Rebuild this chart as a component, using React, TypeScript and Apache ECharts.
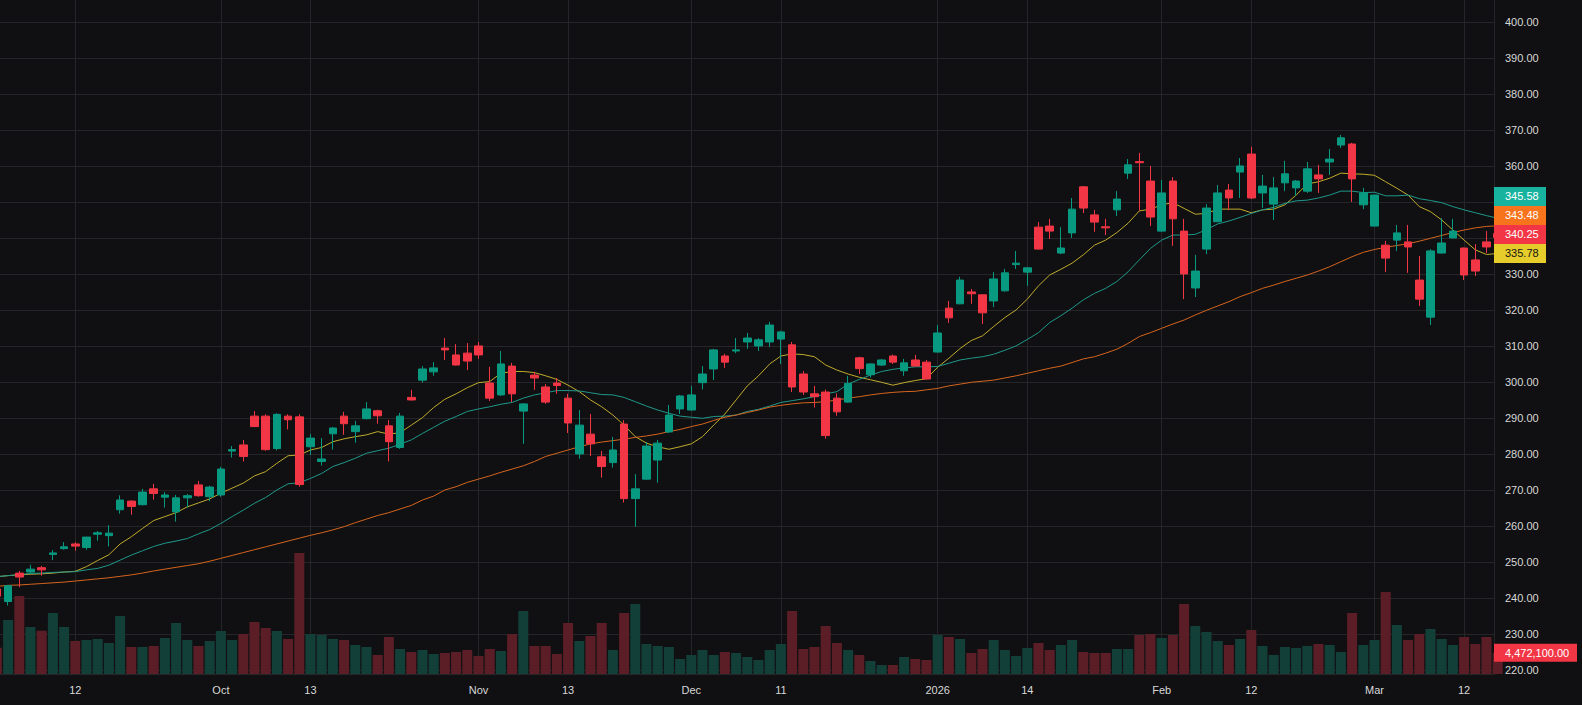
import React, { useEffect, useRef } from "react";
import * as echarts from "echarts";

// ---------- data (trading days, 2025-09-03 .. 2026-03-17) ----------
const dates = [
  "2025-09-03","2025-09-04","2025-09-05","2025-09-08","2025-09-09","2025-09-10","2025-09-11","2025-09-12","2025-09-15","2025-09-16",
  "2025-09-17","2025-09-18","2025-09-19","2025-09-22","2025-09-23","2025-09-24","2025-09-25","2025-09-26","2025-09-29","2025-09-30",
  "2025-10-01","2025-10-02","2025-10-03","2025-10-06","2025-10-07","2025-10-08","2025-10-09","2025-10-10","2025-10-13","2025-10-14",
  "2025-10-15","2025-10-16","2025-10-17","2025-10-20","2025-10-21","2025-10-22","2025-10-23","2025-10-24","2025-10-27","2025-10-28",
  "2025-10-29","2025-10-30","2025-10-31","2025-11-03","2025-11-04","2025-11-05","2025-11-06","2025-11-07","2025-11-10","2025-11-11",
  "2025-11-12","2025-11-13","2025-11-14","2025-11-17","2025-11-18","2025-11-19","2025-11-20","2025-11-21","2025-11-24","2025-11-25",
  "2025-11-26","2025-11-28","2025-12-01","2025-12-02","2025-12-03","2025-12-04","2025-12-05","2025-12-08","2025-12-09","2025-12-10",
  "2025-12-11","2025-12-12","2025-12-15","2025-12-16","2025-12-17","2025-12-18","2025-12-19","2025-12-22","2025-12-23","2025-12-24",
  "2025-12-26","2025-12-29","2025-12-30","2025-12-31","2026-01-02","2026-01-05","2026-01-06","2026-01-07","2026-01-08","2026-01-09",
  "2026-01-12","2026-01-13","2026-01-14","2026-01-15","2026-01-16","2026-01-20","2026-01-21","2026-01-22","2026-01-23","2026-01-26",
  "2026-01-27","2026-01-28","2026-01-29","2026-01-30","2026-02-02","2026-02-03","2026-02-04","2026-02-05","2026-02-06","2026-02-09",
  "2026-02-10","2026-02-11","2026-02-12","2026-02-13","2026-02-17","2026-02-18","2026-02-19","2026-02-20","2026-02-23","2026-02-24",
  "2026-02-25","2026-02-26","2026-02-27","2026-03-02","2026-03-03","2026-03-04","2026-03-05","2026-03-06","2026-03-09","2026-03-10",
  "2026-03-11","2026-03-12","2026-03-13","2026-03-16","2026-03-17"
];

const open = [
  242.6,239.1,247.0,247.3,248.5,252.2,253.8,255.1,254.1,257.8,
  257.4,264.6,267.0,266.0,270.4,268.1,264.0,267.9,271.5,268.2,
  268.7,280.9,282.6,290.6,290.6,281.6,290.6,290.4,282.1,278.0,
  285.7,290.6,286.3,289.9,292.1,287.9,281.9,295.8,300.6,302.9,
  309.5,307.6,308.1,310.1,299.8,296.5,304.5,292.0,302.0,298.7,
  299.8,295.6,280.1,285.6,279.3,277.7,288.4,267.7,273.1,278.4,
  286.2,292.6,292.3,299.9,303.7,307.3,308.7,311.2,310.1,311.2,
  312.0,310.4,302.3,296.8,297.3,295.6,294.5,306.8,302.1,304.8,
  307.3,303.2,306.2,305.6,308.4,320.6,321.8,325.1,324.3,322.6,
  325.4,332.7,330.6,343.1,343.4,335.9,341.5,354.3,346.5,343.2,
  347.9,358.1,361.3,355.9,342.0,355.9,342.0,326.2,337.0,344.6,
  353.4,358.4,363.4,352.6,349.5,355.4,354.0,353.1,357.6,361.2,
  365.9,366.2,349.3,343.4,338.1,339.5,339.0,328.4,318.1,335.9,
  340.1,337.3,334.0,339.0,341.3
];

const close = [
  240.6,243.5,245.9,248.1,247.9,252.6,254.3,254.5,257.0,258.2,
  258.1,267.3,265.5,269.5,269.1,268.7,267.9,268.5,268.5,270.9,
  275.9,281.3,279.4,287.7,281.3,291.1,289.6,271.6,284.5,278.7,
  287.3,288.5,287.9,292.6,290.7,283.5,290.6,295.1,303.7,304.0,
  309.0,304.8,305.9,307.6,295.6,305.1,296.8,294.0,301.2,294.5,
  299.1,288.7,288.1,282.9,276.6,281.2,267.7,270.4,282.3,283.1,
  290.9,296.2,296.5,302.3,309.0,305.6,309.0,312.3,311.8,315.9,
  314.0,298.7,297.3,296.0,285.2,291.8,299.7,303.8,305.1,306.2,
  305.6,305.4,304.5,300.9,313.7,317.9,328.4,324.6,319.3,328.7,
  330.4,333.1,331.8,337.0,342.0,337.3,348.1,348.4,344.5,342.9,
  350.9,360.4,361.0,345.9,352.6,345.4,330.1,330.9,348.4,352.6,
  351.2,360.1,351.2,354.5,354.0,357.9,355.9,359.3,356.5,362.0,
  367.9,356.5,352.6,352.0,334.5,341.5,337.6,323.1,336.5,338.7,
  342.0,329.8,330.9,337.6,340.25
];

const low = [
  239.8,238.0,243.1,246.8,246.3,250.6,253.5,253.2,253.5,256.0,
  254.4,263.5,263.2,265.8,267.4,265.2,261.3,265.2,268.2,267.0,
  268.2,279.1,278.0,287.6,281.0,281.1,286.9,271.0,279.8,276.9,
  281.3,285.4,283.2,289.7,288.5,278.0,281.5,294.9,299.9,301.8,
  306.2,304.7,303.4,306.5,294.8,296.2,294.5,282.9,297.9,294.0,
  296.8,285.9,278.8,279.5,273.5,276.3,266.6,259.9,272.9,272.1,
  285.9,291.2,292.1,298.0,300.6,304.0,308.1,309.3,308.7,309.8,
  305.1,297.3,296.5,293.0,284.3,290.7,294.3,302.3,301.3,304.5,
  305.1,301.8,304.4,300.8,308.3,316.5,321.7,321.8,316.2,320.9,
  325.2,331.5,326.8,336.9,339.8,335.6,340.1,347.0,341.8,340.9,
  346.2,356.5,347.6,343.4,341.8,337.9,323.1,323.7,335.6,344.5,
  347.9,351.2,350.9,348.4,345.1,353.1,351.8,352.6,352.6,357.6,
  365.1,350.1,348.1,343.3,330.6,336.5,330.4,321.2,315.9,335.8,
  340.0,328.4,329.5,335.9,339.5
];

const high = [
  243.6,243.6,247.6,249.3,249.0,253.4,255.6,255.6,257.1,258.7,
  260.3,268.6,267.2,270.4,271.8,269.5,268.7,269.0,272.6,271.3,
  276.5,282.3,284.0,292.0,291.1,291.4,291.1,291.1,285.6,284.5,
  287.6,291.8,289.3,294.5,292.4,289.5,291.5,297.9,304.5,305.6,
  312.3,310.6,310.9,311.2,304.3,308.7,305.4,294.2,302.9,299.5,
  301.2,296.8,292.3,291.2,280.9,284.8,289.5,274.5,283.4,284.0,
  293.7,296.5,299.0,304.5,309.3,307.9,312.3,313.7,312.3,316.8,
  314.3,311.2,303.1,299.0,298.0,296.9,301.8,307.1,305.3,306.5,
  307.7,306.5,307.6,306.2,315.9,322.6,329.3,325.9,324.4,330.6,
  331.5,336.5,331.9,344.5,345.4,343.1,351.2,354.5,347.9,345.4,
  353.1,362.0,363.7,360.1,356.2,357.0,345.4,335.4,349.5,354.8,
  355.1,362.3,365.4,357.6,357.0,361.5,356.2,361.2,360.4,364.8,
  368.7,366.5,354.0,352.1,339.3,343.7,343.7,335.1,337.0,345.6,
  345.4,337.4,338.4,342.0,342.4
];

// volume, millions of shares
const volumeM = [
  5.52,11.34,16.38,9.87,9.09,12.81,9.87,6.93,7.14,7.35,
  6.51,12.18,5.67,5.67,5.88,7.56,10.71,7.14,5.88,6.93,
  9.03,7.14,8.40,10.92,9.66,9.03,7.35,25.41,8.40,8.19,
  7.35,7.14,6.09,5.67,3.99,7.77,5.25,4.62,5.04,4.20,
  4.41,4.62,5.04,3.78,5.25,4.83,8.40,13.23,5.88,5.88,
  4.20,10.71,6.93,7.98,10.71,5.04,12.81,14.70,6.30,5.88,
  5.67,3.15,3.99,5.04,3.99,4.62,4.41,3.57,2.94,5.04,
  6.30,13.23,5.25,5.67,10.08,6.51,5.04,3.99,2.73,1.89,
  1.89,3.57,3.15,2.94,8.19,7.77,7.35,4.41,5.25,7.14,
  5.04,3.78,5.46,6.51,5.04,6.09,7.14,4.62,4.41,4.41,
  5.25,5.25,8.19,8.40,7.56,8.19,14.70,10.08,8.82,6.93,
  6.09,7.35,9.24,5.88,3.99,5.67,5.46,5.88,6.30,6.09,
  4.62,12.81,6.09,7.14,17.22,10.29,7.14,8.40,9.45,7.35,
  6.09,7.77,6.30,7.77,4.4721
];

// moving averages
const maFast = [
  246.0,246.3,246.5,246.7,246.8,247.0,247.3,247.5,248.8,250.5,
  252.1,255.1,257.1,259.4,261.6,262.7,263.8,265.4,266.5,267.6,
  269.2,270.6,272.0,274.0,275.2,277.5,279.6,279.8,281.2,281.9,
  283.5,284.3,284.9,285.4,286.3,285.6,286.0,288.1,290.2,293.0,
  295.3,296.8,298.5,299.9,300.2,302.5,303.0,303.0,302.7,301.8,
  300.8,299.2,297.4,295.1,293.2,290.9,288.1,284.9,283.1,282.1,
  281.4,282.1,282.9,284.9,288.1,291.2,295.1,299.0,301.8,305.1,
  307.3,307.9,307.7,307.1,304.8,303.4,302.3,301.4,300.7,300.0,
  299.2,299.9,300.5,301.0,304.2,306.7,309.4,311.6,312.9,315.5,
  318.0,320.1,323.1,326.8,329.8,331.4,333.1,335.4,338.1,339.5,
  341.6,344.2,347.6,348.1,349.3,349.9,348.3,346.7,346.9,348.1,
  348.1,348.1,347.1,347.9,348.1,349.3,352.0,355.1,355.7,356.7,
  358.1,357.9,357.8,357.5,355.7,353.9,352.0,348.8,347.4,345.1,
  342.3,339.5,336.8,335.5,335.78
];

const maMid = [
  246.0,246.3,246.6,246.9,247.0,247.2,247.3,247.4,247.9,248.3,
  249.2,250.6,252.0,253.2,254.4,255.3,255.9,256.6,257.9,259.1,
  260.8,262.7,264.5,266.4,268.0,270.1,271.8,272.1,273.3,274.7,
  276.6,277.7,278.9,280.3,281.0,281.7,282.8,284.0,285.8,287.5,
  289.2,290.5,291.9,292.6,293.2,293.9,294.4,295.6,296.5,297.1,
  297.7,297.7,297.6,297.1,296.6,296.5,295.8,294.6,293.4,292.3,
  291.4,290.6,290.3,290.0,290.5,290.6,290.9,291.9,292.5,293.4,
  294.4,294.9,295.4,296.0,296.8,297.4,299.5,300.8,302.0,303.0,
  303.6,304.0,304.3,304.3,304.4,305.3,306.2,306.7,307.1,307.8,
  308.9,310.1,311.9,313.8,316.6,318.5,320.6,322.9,324.7,326.1,
  328.0,330.7,334.0,337.2,339.5,340.9,340.9,341.1,342.4,344.0,
  344.8,345.8,346.9,347.9,348.6,349.7,350.4,350.6,351.2,352.0,
  353.1,353.1,352.7,352.8,351.8,351.8,352.0,351.0,350.5,349.9,
  348.8,347.9,347.1,346.3,345.58
];

const maSlow = [
  243.3,243.6,243.7,243.9,244.1,244.3,244.5,244.8,245.1,245.4,
  245.7,246.1,246.5,247.0,247.6,248.1,248.6,249.1,249.6,250.3,
  251.1,251.9,252.7,253.5,254.3,255.1,255.9,256.7,257.5,258.2,
  259.0,259.9,261.0,262.0,263.0,263.8,264.8,265.8,267.3,268.4,
  270.1,271.0,272.2,273.1,274.0,275.0,275.9,276.8,278.0,279.4,
  280.3,281.2,282.1,282.9,283.4,283.8,284.2,284.7,285.1,285.6,
  286.3,286.9,287.7,288.4,289.4,290.3,290.9,291.6,292.3,293.1,
  293.6,294.0,294.3,294.4,294.6,295.1,295.6,296.0,296.5,296.9,
  297.2,297.4,297.5,297.9,298.3,299.0,299.5,300.0,300.3,300.6,
  301.2,301.8,302.5,303.2,303.9,304.5,305.5,306.5,307.1,308.1,
  309.2,310.8,312.7,313.8,315.0,316.2,317.3,318.7,320.0,321.2,
  322.4,323.8,324.9,326.1,327.0,328.0,328.9,329.8,330.9,332.1,
  333.5,334.9,336.1,336.9,337.5,338.0,338.5,339.2,340.0,340.8,
  341.6,342.3,342.9,343.3,343.48
];

const tickDates = [
  "2025-09-12","2025-10-01","2025-10-13","2025-11-03","2025-11-13","2025-12-01","2025-12-11",
  "2026-01-02","2026-01-14","2026-02-02","2026-02-12","2026-03-02","2026-03-12"
];
const tickLabels = ["12","Oct","13","Nov","13","Dec","11","2026","14","Feb","12","Mar","12"];
const priceTicks = [220,230,240,250,260,270,280,290,300,310,320,330,340,350,360,370,380,390,400];

// ---------- styling ----------
const BG = "#101012";
const GRID = "#26262a";
const TEXT = "#d8d8d8";
const UP = "#089981";
const DOWN = "#f23645";
const VOL_UP = "#133f39";
const VOL_DOWN = "#5b1e27";
const C_FAST = "#c0ab2c";
const C_MID = "#1f978a";
const C_SLOW = "#d5641e";
const FONT = "'Liberation Sans', Arial, sans-serif";

export default function App() {
  const ref = useRef<HTMLDivElement>(null);

  useEffect(() => {
    document.body.style.margin = "0";
    document.body.style.background = BG;
    const chart = echarts.init(ref.current!, null, { renderer: "svg" });

    const tickIdx = tickDates.map((d) => dates.indexOf(d));
    const labelFor = (v: number) => {
      const j = tickIdx.indexOf(Math.round(v));
      return j >= 0 ? tickLabels[j] : "";
    };

    const candleData = dates.map((_, i) => [i, open[i], close[i], low[i], high[i]]);
    const volData = dates.map((_, i) => ({
      value: [i, Math.round(volumeM[i] * 1e6)],
      itemStyle: { color: close[i] >= open[i] ? VOL_UP : VOL_DOWN },
    }));
    const toLine = (arr: number[]) => arr.map((v, i) => [i, v]);

    const yLabelStyle = {
      formatter: (v: number) => v.toFixed(2),
      color: TEXT,
      fontSize: 11,
      fontFamily: FONT,
      margin: 11,
    };

    const option: any = {
      backgroundColor: BG,
      animation: false,
      grid: { left: 0, right: 88, top: 0, bottom: 31, containLabel: false, outerBoundsMode: "none" },
      xAxis: {
        type: "value",
        min: 0.277,
        max: 133.67,
        axisLine: { show: true, onZero: false, lineStyle: { color: GRID, width: 1 } },
        axisTick: { show: false, customValues: tickIdx },
        axisLabel: {
          show: true,
          customValues: tickIdx,
          formatter: (v: number) => labelFor(v),
          color: TEXT,
          fontSize: 11,
          fontFamily: FONT,
          margin: 10,
        },
        splitLine: { show: true, lineStyle: { color: GRID, width: 1 } },
      },
      yAxis: [
        {
          type: "value",
          position: "right",
          min: 218.972,
          max: 406.194,
          axisLine: { show: true, onZero: false, lineStyle: { color: GRID, width: 1 } },
          axisTick: { show: false, customValues: priceTicks },
          axisLabel: { customValues: priceTicks, ...yLabelStyle },
          splitLine: { show: true, lineStyle: { color: GRID, width: 1 } },
        },
        { type: "value", min: 0, max: 141.5e6, show: false, splitLine: { show: false } },
      ],
      series: [
        {
          name: "Volume",
          type: "bar",
          yAxisIndex: 1,
          data: volData,
          barWidth: 10,
          z: 1,
          silent: true,
        },
        { name: "MA fast", type: "line", data: toLine(maFast), symbol: "none", showSymbol: false, lineStyle: { color: C_FAST, width: 1 }, z: 2, silent: true },
        { name: "MA mid", type: "line", data: toLine(maMid), symbol: "none", showSymbol: false, lineStyle: { color: C_MID, width: 1 }, z: 2, silent: true },
        { name: "MA slow", type: "line", data: toLine(maSlow), symbol: "none", showSymbol: false, lineStyle: { color: C_SLOW, width: 1 }, z: 2, silent: true },
        {
          name: "Price",
          type: "candlestick",
          data: candleData,
          encode: { x: 0, y: [1, 2, 3, 4] },
          barWidth: 8,
          itemStyle: { color: UP, color0: DOWN, borderColor: UP, borderColor0: DOWN, borderWidth: 1 },
          z: 3,
          silent: true,
        },
      ],
    };
    chart.setOption(option);

    // price-scale tags for last values
    const n = dates.length - 1;
    const axisX = chart.convertToPixel({ xAxisIndex: 0 }, 133.67) as number;
    const tags = [
      { value: maFast[n], bg: "#e6cd2b", fg: "#141414" },
      { value: close[n], bg: close[n] >= open[n] ? UP : DOWN, fg: "#ffffff" },
      { value: maSlow[n], bg: "#f7731c", fg: "#ffffff" },
      { value: maMid[n], bg: "#18b39f", fg: "#ffffff" },
    ].sort((a, b) => a.value - b.value);
    const H = 19;
    let prev = Infinity;
    const graphics: any[] = [];
    const bands: [number, number][] = [];
    for (const t of tags) {
      let c = chart.convertToPixel({ yAxisIndex: 0 }, t.value) as number;
      if (c > prev - H) c = prev - H;
      prev = c;
      bands.push([c - H / 2, c + H / 2]);
      graphics.push({ type: "rect", shape: { x: axisX, y: c - H / 2, width: 52, height: H }, style: { fill: t.bg }, z: 100 });
      graphics.push({
        type: "text",
        x: axisX + 11,
        y: c,
        style: { text: t.value.toFixed(2), fill: t.fg, font: `11px ${FONT}`, textAlign: "left", textVerticalAlign: "middle", verticalAlign: "middle" },
        z: 101,
      });
    }
    const lastVol = Math.round(volumeM[n] * 1e6);
    const vy = chart.convertToPixel({ yAxisIndex: 1 }, lastVol) as number;
    bands.push([vy - 9, vy + 9]);
    graphics.push({ type: "rect", shape: { x: axisX, y: vy - 9, width: 83, height: 18 }, style: { fill: close[n] >= open[n] ? UP : DOWN }, z: 100 });
    graphics.push({
      type: "text",
      x: axisX + 11,
      y: vy,
      style: { text: lastVol.toLocaleString("en-US") + ".00", fill: "#ffffff", font: `11px ${FONT}`, textAlign: "left", textVerticalAlign: "middle", verticalAlign: "middle" },
      z: 101,
    });

    // axis labels that sit behind a tag are hidden (as on the price scale)
    const visibleTicks = priceTicks.filter((p) => {
      const y = chart.convertToPixel({ yAxisIndex: 0 }, p) as number;
      return !bands.some(([a, b]) => y > a - 5 && y < b + 5);
    });
    chart.setOption({
      yAxis: [{ axisLabel: { customValues: visibleTicks, ...yLabelStyle } }, {}],
      graphic: graphics,
    });

    return () => chart.dispose();
  }, []);

  return (
    <div
      ref={ref}
      style={{ position: "absolute", left: 0, top: 0, width: 1582, height: 705, background: BG }}
    />
  );
}
